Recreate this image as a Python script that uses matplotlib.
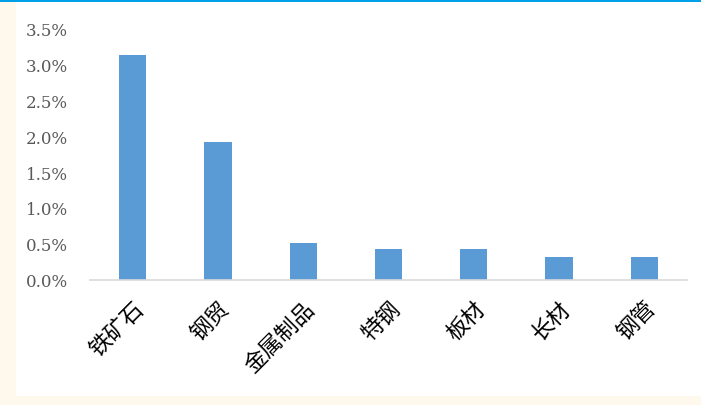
import matplotlib
matplotlib.use("Agg")
from matplotlib import pyplot as plt
from matplotlib.patches import Rectangle
from matplotlib.ticker import FuncFormatter

categories = ["铁矿石", "钢贸", "金属制品", "特钢", "板材", "长材", "钢管"]
values = [3.13, 1.92, 0.52, 0.43, 0.43, 0.32, 0.32]  # percent
yticks = [0.0, 0.5, 1.0, 1.5, 2.0, 2.5, 3.0, 3.5]

W, H = 701, 406
fig = plt.figure(figsize=(W / 100, H / 100), dpi=100, facecolor="#FEF9EC")

# white panel and blue top rule (behind the axes)
fig.patches.append(Rectangle((16 / W, 9 / H), 1 - 16 / W, 1 - 9 / H,
                             transform=fig.transFigure, facecolor="white",
                             edgecolor="none", zorder=-2))
fig.patches.append(Rectangle((0, 1 - 3 / H), 1, 3 / H,
                             transform=fig.transFigure, facecolor="#00A0E9",
                             edgecolor="none", zorder=-1))

ax = fig.add_axes([90 / W, 1 - 281 / H, (687 - 90) / W, (281 - 29) / H])
ax.set_facecolor("none")

x = range(len(categories))
ax.bar(x, values, width=0.32, color="#5B9BD5", zorder=2)

ax.set_xlim(-0.5, len(categories) - 0.5)
ax.set_ylim(0, 3.5)
ax.set_yticks(yticks)
ax.yaxis.set_major_formatter(FuncFormatter(lambda v, p: "%.1f%%" % v))
ax.tick_params(axis="y", length=0, pad=16, labelcolor="#595959", labelsize=12)
for lab in ax.get_yticklabels():
    lab.set_family(["DejaVu Serif"])

ax.set_xticks(list(x))
ax.set_xticklabels(categories, rotation=45, ha="right", rotation_mode="anchor",
                   family=["Noto Sans CJK SC", "DejaVu Sans"], fontsize=16)
ax.tick_params(axis="x", length=0, pad=12)

for s in ["top", "right", "left"]:
    ax.spines[s].set_visible(False)
ax.spines["bottom"].set_color("#D9D9D9")
ax.spines["bottom"].set_linewidth(1.2)

fig.savefig("out.png", dpi=100, facecolor=fig.get_facecolor())
